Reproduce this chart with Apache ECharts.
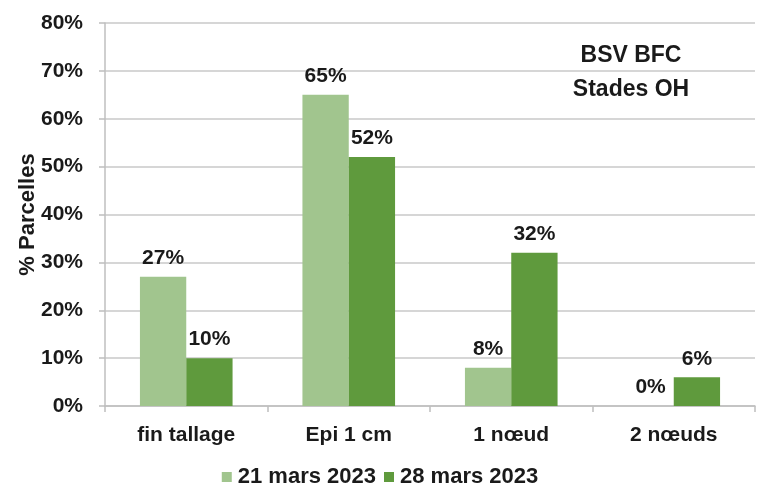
<!DOCTYPE html>
<html><head><meta charset="utf-8">
<script src="https://cdn.jsdelivr.net/npm/echarts@6/dist/echarts.min.js"></script>
<style>html,body{margin:0;padding:0;background:#fff}#c{width:760px;height:486px}</style>
</head><body><div id="c"></div>
<script>
const categories = ['fin tallage', 'Epi 1 cm', '1 nœud', '2 nœuds'];
const series21 = [27, 65, 8, 0];
const series28 = [10, 52, 32, 6];
const yTicks = [0, 10, 20, 30, 40, 50, 60, 70, 80];
const seriesNames = ['21 mars 2023', '28 mars 2023'];
const font = 'Liberation Sans, Arial, sans-serif';
const chart = echarts.init(document.getElementById('c'));
const lbl = {show: true, position: 'top', formatter: p => p.value + '%', fontFamily: font, fontWeight: 'bold', fontSize: 21, color: '#1a1a1a', distance: 8};
chart.setOption({
  animation: false,
  title: {text: 'BSV BFC\nStades OH', left: 626, top: 34, textAlign: 'center',
    textStyle: {fontFamily: font, fontWeight: 'bold', fontSize: 23, color: '#1a1a1a', lineHeight: 34}},
  legend: {top: 461, left: 'center', itemWidth: 10, itemHeight: 10, itemGap: 8, icon: 'rect',
    textStyle: {fontFamily: font, fontWeight: 'bold', fontSize: 22, color: '#1a1a1a', padding: [0, 0, 0, 1]}},
  grid: {left: 105, right: 5, top: 23, bottom: 80, outerBoundsMode: 'none', containLabel: false},
  xAxis: {type: 'category', data: categories,
    axisLine: {lineStyle: {color: '#bfbfbf', width: 1.5}},
    axisTick: {show: true, length: 6, lineStyle: {color: '#bfbfbf', width: 1.5}},
    axisLabel: {fontFamily: font, fontWeight: 'bold', fontSize: 21, color: '#1a1a1a', margin: 19}},
  yAxis: {type: 'value', min: 0, max: 80, interval: 10,
    name: '% Parcelles', nameLocation: 'middle', nameGap: 66, nameMoveOverlap: false,
    nameTextStyle: {fontFamily: font, fontWeight: 'bold', fontSize: 22, color: '#1a1a1a'},
    axisLine: {show: true, lineStyle: {color: '#bfbfbf', width: 1.5}},
    axisTick: {show: true, length: 6, lineStyle: {color: '#bfbfbf', width: 1.5}},
    splitLine: {lineStyle: {color: '#c8c8c8', width: 1.5}},
    axisLabel: {fontFamily: font, fontWeight: 'bold', fontSize: 21, color: '#1a1a1a', margin: 22,
      formatter: v => yTicks.includes(v) ? v + '%' : ''}},
  series: [
    {name: seriesNames[0], type: 'bar', data: series21, barGap: '0%', barCategoryGap: '43%',
      itemStyle: {color: '#a1c58e'}, label: lbl},
    {name: seriesNames[1], type: 'bar', data: series28,
      itemStyle: {color: '#5f9a3d'}, label: lbl}
  ]
});
</script></body></html>
